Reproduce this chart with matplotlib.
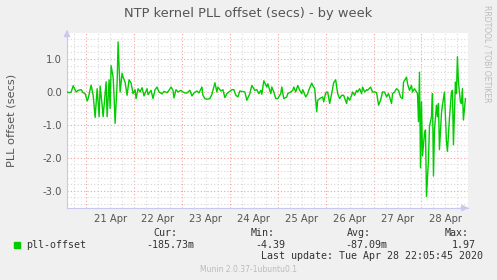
import matplotlib
matplotlib.use("Agg")
import matplotlib.pyplot as plt
from matplotlib.ticker import MultipleLocator, FixedLocator, NullFormatter

# hours since 21 Apr 00:00, and PLL offset in seconds
hours = [-9.5, -8.5, -7.5, -6.5, -5, -4, -2.5, -1.5, -0.5, 0.5, 1, 2.5, 3.5, 4.5, 5.5,
         6.5, 7, 8, 8.5, 10, 10.5, 11.5, 12, 12.5, 13.5, 14, 14.5, 15.5, 16, 17, 18,
         18.5, 19.5, 20.5, 21.5, 22.5, 23.5, 24.5, 25, 26, 27, 28, 29, 30.5, 31, 32.5,
         33.5, 34.5, 35.5, 36.5, 38, 39, 40.5, 41.5, 42.5, 43.5, 44, 45, 46, 47.5, 48.5,
         49.5, 50.5, 52, 53, 54, 55.5, 56.5, 58, 58.5, 59.5, 60.5, 62, 63, 64.5, 65.5,
         66, 67.5, 68.5, 69.5, 70.5, 71.5, 73, 74, 75, 76, 77, 79.5, 80.5, 82, 83, 84.5,
         85.5, 86.5, 87.5, 88, 89, 90.5, 91, 92.5, 93, 94, 95, 96, 97.5, 98, 99, 100.5,
         101, 102.5, 103.5, 104, 105, 106, 107, 108, 108.5, 110, 111, 111.5, 113, 113.5,
         114.5, 115.5, 116, 117, 118.5, 119, 120, 121, 122, 123, 124, 125, 126, 127, 128,
         129, 130.5, 131, 132, 133, 133.5, 134.5, 135.5, 136, 137, 138, 138.5, 139.5,
         140.5, 141, 142.5, 143.5, 144.5, 145.5, 146.5, 147.5, 148.5, 149.5, 150.5, 151.5,
         153, 153.5, 154.5, 155.5, 156.5, 157.5, 158.5, 159, 160.5, 161, 162, 163, 163.5,
         164.5, 165.5, 166, 166.5, 167, 167.5, 168, 168.5, 169.5, 170, 170.5, 171.5, 172,
         173, 173.5, 174, 174.5, 175.5, 176, 176.5, 177, 178, 178.5, 179.5, 180.5, 181,
         182, 183, 183.5, 184, 185, 185.5, 186, 186.5, 187.5, 188, 188.5, 189, 190]
offset = [0.0, -0.02, 0.0, 0.19, 0.0, 0.05, 0.07, -0.02, -0.05, -0.27, -0.2, 0.21, -0.1,
          -0.77, 0.1, -0.75, 0.18, -0.4, -0.75, 0.31, -0.75, 0.37, -0.5, 0.8, 0.45, -0.15,
          -0.95, 0.25, 1.52, 0.0, 0.57, 0.45, 0.3, -0.1, 0.37, 0.27, -0.05, 0.07, -0.2, 0.1,
          0.0, 0.13, -0.12, 0.1, -0.08, 0.05, -0.2, 0.07, 0.15, 0.0, -0.06, 0.02, -0.02,
          0.05, 0.15, 0.05, -0.18, 0.07, 0.0, 0.05, 0.0, -0.03, -0.03, 0.05, -0.12, -0.03,
          0.03, -0.03, 0.15, -0.1, -0.2, -0.22, -0.2, -0.07, 0.28, 0.0, 0.15, 0.03, 0.07,
          -0.17, -0.05, 0.0, 0.07, 0.07, -0.1, -0.15, 0.03, 0.0, -0.25, -0.05, 0.2, 0.05,
          0.07, -0.05, 0.05, -0.07, 0.34, 0.15, 0.25, -0.05, 0.15, 0.0, -0.2, -0.2, -0.05,
          0.15, -0.2, -0.15, -0.05, 0.0, 0.05, 0.15, 0.0, 0.2, 0.05, -0.05, 0.07, -0.15,
          -0.05, 0.05, 0.27, 0.2, 0.1, -0.6, -0.25, -0.2, -0.15, -0.3, -0.03, 0.0, -0.35,
          -0.05, 0.28, 0.37, -0.05, -0.2, -0.1, -0.1, -0.35, -0.15, -0.25, -0.1, 0.0, -0.1,
          0.05, 0.0, 0.1, -0.05, 0.15, 0.0, 0.07, 0.05, 0.15, 0.0, 0.0, -0.02, -0.4, -0.25,
          0.0, 0.0, -0.15, -0.05, -0.35, -0.05, 0.0, 0.1, 0.05, -0.15, -0.2, 0.3, 0.45,
          0.25, 0.05, 0.2, 0.0, 0.1, 0.0, -0.05, -0.9, 0.6, -2.3, -0.3, -1.94, -1.25, -1.15,
          -3.17, -2.05, -1.05, -0.75, -0.05, -2.55, -1.15, -0.4, -0.75, -0.35, -1.75, -0.65,
          -0.4, 0.0, -1.5, -1.8, -0.8, 0.0, 0.05, -1.6, 0.3, -0.05, 1.07, 0.3, -0.3, -0.35,
          0.1, -0.85, -0.2]

day_labels = ["21 Apr", "22 Apr", "23 Apr", "24 Apr", "25 Apr", "26 Apr", "27 Apr", "28 Apr"]
y_ticks = [1.0, 0.0, -1.0, -2.0, -3.0]

legend_name = "pll-offset"
stat_heads = ["Cur:", "Min:", "Avg:", "Max:"]
stat_vals = ["-185.73m", "-4.39", "-87.09m", "1.97"]

bg = "#F0F0F0"
txt = "#555555"
axis_col = "#C8C8F0"
fig = plt.figure(figsize=(4.97, 2.80), dpi=100, facecolor=bg)
ax = fig.add_axes([67 / 497, 1 - 208 / 280, 401 / 497, 175 / 280])
ax.set_facecolor("white")

ax.plot(hours, offset, color="#00CC00", lw=1.0, zorder=3)

ax.set_xlim(-9.6, 191.3)
ax.set_ylim(-3.52, 1.79)

# grid: grey minor lines, red major lines at day boundaries / whole units
ax.xaxis.set_major_locator(MultipleLocator(24))
ax.xaxis.set_minor_locator(MultipleLocator(6))
ax.yaxis.set_major_locator(FixedLocator(y_ticks))
ax.yaxis.set_minor_locator(MultipleLocator(0.2))
ax.grid(which="minor", color="#D8D8D8", ls=(0, (1, 2)), lw=0.8, zorder=1)
ax.grid(which="major", color="#F4A0A0", ls=(0, (1, 2)), lw=0.8, zorder=2)

ax.xaxis.set_major_formatter(NullFormatter())
ax.tick_params(which="both", length=0, colors=txt, labelsize=7.2)
ax.set_yticklabels(["%.1f" % v for v in y_ticks])

# day names sit at noon, below the axis
lab_tr = ax.get_xaxis_transform()
for i, lab in enumerate(day_labels):
    ax.text(i * 24 + 12, -0.035, lab, ha="center", va="top", fontsize=7.2,
            color=txt, transform=lab_tr)

for s in ["top", "right"]:
    ax.spines[s].set_visible(False)
ax.spines["left"].set_color(axis_col)
ax.spines["bottom"].set_color(axis_col)
ax.annotate("", xy=(193, -3.52), xytext=(186, -3.52),
            arrowprops=dict(arrowstyle="-|>", color=axis_col, lw=0.8), annotation_clip=False)
ax.annotate("", xy=(-9.6, 1.97), xytext=(-9.6, 1.6),
            arrowprops=dict(arrowstyle="-|>", color=axis_col, lw=0.8), annotation_clip=False)

fig.text(12 / 497, 1 - 120 / 280, "PLL offset (secs)", rotation=90, ha="center",
         va="center", fontsize=8.2, color=txt)
fig.text(0.5, 1 - 14 / 280, "NTP kernel PLL offset (secs) - by week", ha="center",
         va="center", fontsize=9.4, color=txt)
fig.text(487 / 497, 1 - 5 / 280, "RRDTOOL / TOBI OETIKER", rotation=270, ha="center",
         va="top", fontsize=5.5, color="#BBBBBB")

mono = "DejaVu Sans Mono"
fig.patches.append(plt.Rectangle((14 / 497, 1 - 248 / 280), 6 / 497, 6 / 280,
                                 transform=fig.transFigure, color="#00CC00"))
fig.text(26 / 497, 1 - 245 / 280, legend_name, family=mono, fontsize=7.2,
         color="#333333", va="center")
head_x = [177, 275, 371, 469]
val_x = [194, 285, 387, 476]
for hx, h in zip(head_x, stat_heads):
    fig.text(hx / 497, 1 - 233 / 280, h, family=mono, fontsize=7.2, color="#333333",
             ha="right", va="center")
for vx, v in zip(val_x, stat_vals):
    fig.text(vx / 497, 1 - 245 / 280, v, family=mono, fontsize=7.2, color="#333333",
             ha="right", va="center")
fig.text(483 / 497, 1 - 256 / 280, "Last update: Tue Apr 28 22:05:45 2020", family=mono,
         fontsize=7.2, color="#333333", ha="right", va="center")
fig.text(248 / 497, 1 - 269 / 280, "Munin 2.0.37-1ubuntu0.1", fontsize=5.5,
         color="#BBBBBB", ha="center", va="center")

fig.savefig("out.png", dpi=100, facecolor=bg)
